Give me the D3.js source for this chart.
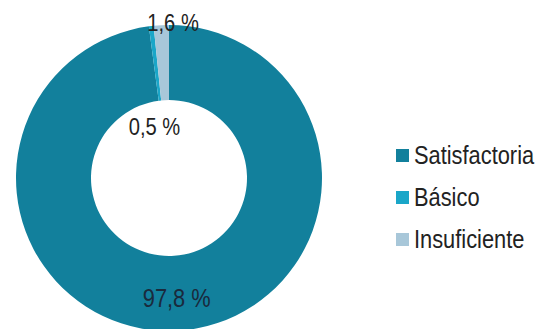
<!DOCTYPE html>
<html>
<head>
<meta charset="utf-8">
<script src="https://cdn.jsdelivr.net/npm/d3@7"></script>
<style>
  body { margin: 0; background: #fff; }
  text { font-family: "Liberation Sans Narrow", "Arial Narrow", "Liberation Sans", Arial, sans-serif; }
</style>
</head>
<body>
<svg width="535" height="329"></svg>
<script>
'use strict'

const categories = ['Satisfactoria', 'Básico', 'Insuficiente']
const values = [97.8, 0.5, 1.6]
const labels = ['97,8 %', '0,5 %', '1,6 %']
const colors = ['#12809c', '#1aa6c8', '#a8c7d9']

const svg = d3.select('svg')
const cx = 169
const cy = 178
const outerR = 153
const innerR = 78
const narrow = 0.84 // no narrow font installed, squeeze the sans

const pie = d3.pie().sort(null).value((d) => d)
const arcs = pie(values)
const arc = d3.arc().innerRadius(innerR).outerRadius(outerR)

const g = svg.append('g').attr('transform', `translate(${cx},${cy})`)

g.selectAll('path.slice').data(arcs)
  .enter()
  .append('path')
  .classed('slice', true)
  .attr('d', arc)
  .style('fill', (d, i) => colors[i])
  .style('stroke', 'none')

// label spots: radius from center + a nudge, like the hand-moved excel labels
const labelR = [117, 56, 158]
const labelNudge = [[0, 3], [-8, 4], [12, 3]]
const labelPos = (d, i) => {
  const c = d3.arc().innerRadius(labelR[i]).outerRadius(labelR[i]).centroid(d)
  return [c[0] + labelNudge[i][0], c[1] + labelNudge[i][1]]
}

g.selectAll('g.lbl').data(arcs)
  .enter()
  .append('g')
  .classed('lbl', true)
  .attr('transform', (d, i) => `translate(${labelPos(d, i)}) scale(${narrow},1)`)
  .append('text')
  .attr('text-anchor', 'middle')
  .attr('dominant-baseline', 'central')
  .style('font-size', (d, i) => i === 0 ? '26px' : '24px')
  .style('fill', (d, i) => i === 0 ? '#1a2a3c' : '#222')
  .text((d, i) => labels[i])

const legend = svg.append('g').attr('transform', 'translate(396,155)')
const item = legend.selectAll('g.item').data(categories)
  .enter()
  .append('g')
  .classed('item', true)
  .attr('transform', (d, i) => `translate(0,${i * 42})`)

item.append('rect')
  .attr('x', 0)
  .attr('y', -6)
  .attr('width', 13)
  .attr('height', 13)
  .style('fill', (d, i) => colors[i])

item.append('g')
  .attr('transform', `translate(18,0) scale(${narrow},1)`)
  .append('text')
  .attr('dominant-baseline', 'central')
  .style('font-size', '26px')
  .style('fill', '#222')
  .text((d) => d)
</script>
</body>
</html>
